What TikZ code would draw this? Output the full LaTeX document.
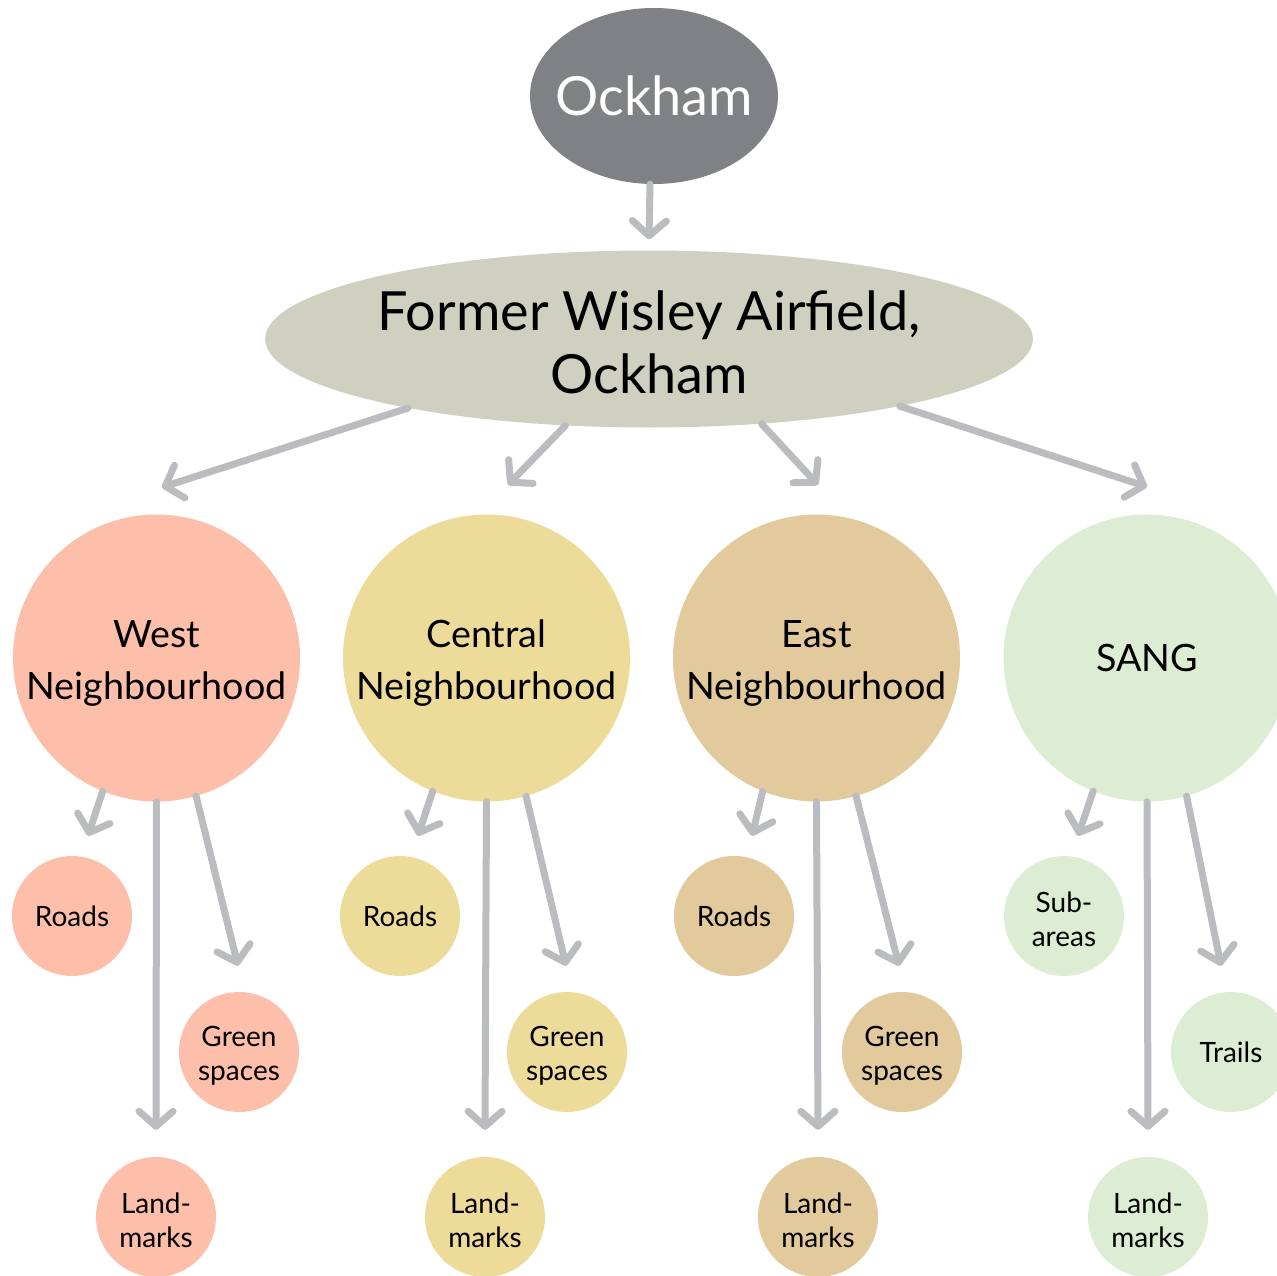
\documentclass[tikz,border=0pt]{standalone}
\usepackage{fontspec}
\setmainfont{Lato}
\usetikzlibrary{shapes.geometric,arrows.meta}
\definecolor{ockgray}{HTML}{808185}
\definecolor{airfield}{HTML}{CFD0C0}
\definecolor{westc}{HTML}{FEBFAA}
\definecolor{centralc}{HTML}{EDDC99}
\definecolor{eastc}{HTML}{E2CA9D}
\definecolor{sangc}{HTML}{DDEDD3}
\definecolor{arrgray}{HTML}{BBBCBF}
\newcommand{\topfix}[1]{\rule{0pt}{#1}}
\begin{document}
\begin{tikzpicture}[x=1pt,y=-1pt,
  arr/.style={draw=arrgray,line width=7pt,line cap=round,
    -{Straight Barb[length=15pt,width=34pt,round]}},
  big/.style={circle,inner sep=0pt,minimum size=287pt,align=center,
    font=\fontsize{37.7}{52}\selectfont},
  small/.style={circle,inner sep=0pt,minimum size=120pt,align=center,
    font=\fontsize{28}{34}\selectfont}]
\useasboundingbox (0,0) rectangle (1277,1276);
\node(NO)[ellipse,fill=ockgray,inner sep=0pt,minimum width=248pt,minimum height=176pt,
  label={[text=white,font=\fontsize{54}{60}\selectfont]center:Ockham}] at (654,96){};
\node(NF)[ellipse,fill=airfield,inner sep=0pt,minimum width=760pt,minimum height=177pt,
  align=center,font=\fontsize{54}{63}\selectfont] at (649,339){\topfix{47pt}Former Wisley Airfield,\\Ockham};
\node(NW)[big,fill=westc] at (156.5,658){\topfix{37pt}West\\Neighbourhood};
\node(NC)[big,fill=centralc] at (486.5,658){\topfix{37pt}Central\\Neighbourhood};
\node(NE)[big,fill=eastc] at (816.5,658){\topfix{37pt}East\\Neighbourhood};
\node(NS)[big,fill=sangc] at (1147,658){SANG};
% west
\node(NWR)[small,fill=westc] at (72,916){Roads};
\node(NWG)[small,fill=westc] at (239,1052){\topfix{28pt}Green\\spaces};
\node(NWL)[small,fill=westc] at (156,1217){\topfix{28pt}Land-\\marks};
% central
\node(NCR)[small,fill=centralc] at (400,916){Roads};
\node(NCG)[small,fill=centralc] at (567,1052){\topfix{28pt}Green\\spaces};
\node(NCL)[small,fill=centralc] at (485,1217){\topfix{28pt}Land-\\marks};
% east
\node(NER)[small,fill=eastc] at (734,916){Roads};
\node(NEG)[small,fill=eastc] at (902,1052){\topfix{28pt}Green\\spaces};
\node(NEL)[small,fill=eastc] at (818,1217){\topfix{28pt}Land-\\marks};
% sang
\node(NSR)[small,fill=sangc] at (1064,916){\topfix{28pt}Sub-\\areas};
\node(NSG)[small,fill=sangc] at (1231,1052){Trails};
\node(NSL)[small,fill=sangc] at (1148,1217){\topfix{28pt}Land-\\marks};
% arrows
\draw[arr] ([xshift=-4pt]NO.south) -- ([yshift=11pt]NF.north);
\draw[arr] (NF.196) -- ([xshift=5.5pt,yshift=27pt]NW.north);
\draw[arr] (NF.226) -- ([xshift=21.5pt,yshift=29.5pt]NC.north);
\draw[arr] (NF.-37) -- ([xshift=1.5pt,yshift=29.5pt]NE.north);
\draw[arr] (NF.-15) -- ([yshift=27.5pt]NS.north);
\draw[arr] (NW.-112) -- ([xshift=16pt,yshift=20pt]NWR.north);
\draw[arr] (NW.south) -- ([yshift=27pt]NWL.north);
\draw[arr] (NW.-74) -- ([xshift=-1pt,yshift=26pt]NWG.north);
\draw[arr] (NC.-112) -- ([xshift=18pt,yshift=20pt]NCR.north);
\draw[arr] (NC.south) -- ([yshift=27pt]NCL.north);
\draw[arr] (NC.-74) -- ([xshift=-1pt,yshift=26pt]NCG.north);
\draw[arr] (NE.-112) -- ([xshift=18pt,yshift=20pt]NER.north);
\draw[arr] (NE.south) -- ([yshift=27pt]NEL.north);
\draw[arr] (NE.-74) -- ([xshift=-3pt,yshift=26pt]NEG.north);
\draw[arr] (NS.-112) -- ([xshift=14pt,yshift=20pt]NSR.north);
\draw[arr] (NS.south) -- ([yshift=27pt]NSL.north);
\draw[arr] (NS.-74) -- ([xshift=-10pt,yshift=26pt]NSG.north);
\end{tikzpicture}
\end{document}
